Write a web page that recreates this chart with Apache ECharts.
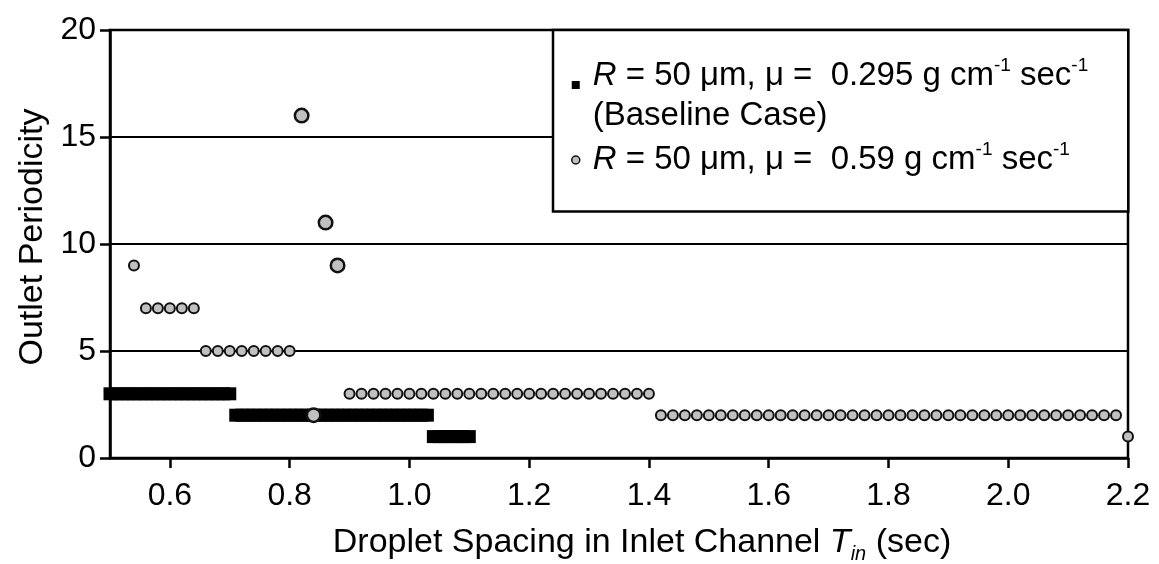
<!DOCTYPE html>
<html>
<head>
    <meta charset="utf-8">
    <title>Outlet Periodicity</title>
    <script src="https://cdn.jsdelivr.net/npm/echarts@6/dist/echarts.min.js"></script>
</head>
<body style="margin:0;background:#fff;">
<div id="main" style="width:1159px;height:564px;"></div>
<script type="text/javascript">
    // x tick positions (axis runs from 0.5 to 2.2)
    var xTicks = [0.6, 0.8, 1.0, 1.2, 1.4, 1.6, 1.8, 2.0, 2.2];

    // baseline case, mu = 0.295 : droplet spacing for each periodicity level
    var base3 = [0.50, 0.51, 0.52, 0.53, 0.54, 0.55, 0.56, 0.57, 0.58, 0.59, 0.60,
                 0.61, 0.62, 0.63, 0.64, 0.65, 0.66, 0.67, 0.68, 0.69, 0.70];
    var base2 = [0.71, 0.72, 0.73, 0.74, 0.75, 0.76, 0.77, 0.78, 0.79, 0.80, 0.81,
                 0.82, 0.83, 0.84, 0.85, 0.86, 0.87, 0.88, 0.89, 0.90, 0.91, 0.92,
                 0.93, 0.94, 0.95, 0.96, 0.97, 0.98, 0.99, 1.00, 1.01, 1.02, 1.03];
    var base1 = [1.04, 1.05, 1.06, 1.07, 1.08, 1.09, 1.10];

    // mu = 0.59 case
    var visc9 = [0.54];
    var visc7 = [0.56, 0.58, 0.60, 0.62, 0.64];
    var visc5 = [0.66, 0.68, 0.70, 0.72, 0.74, 0.76, 0.78, 0.80];
    var visc3 = [0.90, 0.92, 0.94, 0.96, 0.98, 1.00, 1.02, 1.04, 1.06, 1.08, 1.10,
                 1.12, 1.14, 1.16, 1.18, 1.20, 1.22, 1.24, 1.26, 1.28, 1.30, 1.32,
                 1.34, 1.36, 1.38, 1.40];
    var visc2 = [1.42, 1.44, 1.46, 1.48, 1.50, 1.52, 1.54, 1.56, 1.58, 1.60, 1.62,
                 1.64, 1.66, 1.68, 1.70, 1.72, 1.74, 1.76, 1.78, 1.80, 1.82, 1.84,
                 1.86, 1.88, 1.90, 1.92, 1.94, 1.96, 1.98, 2.00, 2.02, 2.04, 2.06,
                 2.08, 2.10, 2.12, 2.14, 2.16, 2.18];
    var visc1 = [2.20];
    // the few larger markers of the same case
    var bigX = [0.82, 0.86, 0.88, 0.84];
    var bigY = [16, 11, 9, 2];

    function pts(xs, y) {
        return xs.map(function (x) { return [x, y]; });
    }

    var FONT = '"Liberation Sans", Arial, sans-serif';
    var myChart = echarts.init(document.getElementById('main'));

    var legendRich = {
        t: {fontFamily: FONT, fontSize: 33, color: '#000', lineHeight: 40},
        i: {fontFamily: FONT, fontSize: 33, color: '#000', lineHeight: 40, fontStyle: 'italic'},
        s: {fontFamily: FONT, fontSize: 19, color: '#000', lineHeight: 24, verticalAlign: 'top'}
    };

    var option = {
        backgroundColor: '#fff',
        animation: false,
        grid: {
            left: 110, right: 31, top: 30, bottom: 106,
            show: true, borderColor: '#000', borderWidth: 2.5,
            outerBoundsMode: 'none'
        },
        legend: {
            left: 553, top: 30,
            orient: 'vertical',
            itemWidth: 8, itemHeight: 80, itemGap: 4,
            padding: [26, 40, 35, 18],
            backgroundColor: '#fff',
            borderColor: '#000', borderWidth: 2.5,
            data: [
                {name: 'base', icon: 'path://M0,0L8,0M0,25L8,25L8,33L0,33ZM0,80L8,80'},
                {name: 'visc', icon: 'circle', itemStyle: {borderWidth: 1.5}}
            ],
            formatter: function (name) {
                if (name === 'base') {
                    return '{i|R}{t| = 50 μm, μ =  0.295 g cm}{s|-1}{t| sec}{s|-1}\n{t|(Baseline Case)}';
                }
                return '{i|R}{t| = 50 μm, μ =  0.59 g cm}{s|-1}{t| sec}{s|-1}';
            },
            textStyle: {padding: [0, 0, 0, 8], rich: legendRich}
        },
        xAxis: {
            type: 'value', min: 0.5, max: 2.2,
            name: '{t|Droplet Spacing in Inlet Channel }{i|T}{sub|in}{t| (sec)}',
            nameLocation: 'middle', nameGap: 64,
            nameTextStyle: {
                padding: [0, 0, 0, 46],
                rich: {
                    t: {fontFamily: FONT, fontSize: 34, color: '#000', lineHeight: 42},
                    i: {fontFamily: FONT, fontSize: 34, color: '#000', lineHeight: 42, fontStyle: 'italic'},
                    sub: {fontFamily: FONT, fontSize: 20, color: '#000', lineHeight: 12, fontStyle: 'italic', verticalAlign: 'bottom'}
                }
            },
            axisLine: {lineStyle: {color: '#000', width: 2.5}},
            axisTick: {customValues: xTicks, length: 10, lineStyle: {color: '#000', width: 2.5}},
            axisLabel: {
                customValues: xTicks, margin: 22,
                fontFamily: FONT, fontSize: 32, color: '#000',
                formatter: function (v) { return v.toFixed(1); }
            },
            splitLine: {show: false}
        },
        yAxis: {
            type: 'value', min: 0, max: 20, interval: 5,
            name: 'Outlet Periodicity',
            nameLocation: 'middle', nameGap: 58,
            nameTextStyle: {fontFamily: FONT, fontSize: 34, color: '#000', padding: [0, 0, 0, 14]},
            axisLine: {show: true, lineStyle: {color: '#000', width: 2.5}},
            axisTick: {show: true, length: 10, lineStyle: {color: '#000', width: 2.5}},
            axisLabel: {margin: 14, fontFamily: FONT, fontSize: 32, color: '#000'},
            splitLine: {show: true, lineStyle: {color: '#000', width: 2}}
        },
        series: [
            {
                name: 'base', type: 'scatter', clip: false,
                symbol: 'rect', symbolSize: 13,
                itemStyle: {color: '#000', opacity: 1},
                data: pts(base3, 3).concat(pts(base2, 2), pts(base1, 1))
            },
            {
                name: 'visc', type: 'scatter', clip: false,
                symbol: 'circle', symbolSize: 10,
                itemStyle: {color: '#c0c0c0', borderColor: '#111', borderWidth: 2, opacity: 1},
                data: pts(visc9, 9).concat(pts(visc7, 7), pts(visc5, 5), pts(visc3, 3), pts(visc2, 2), pts(visc1, 1))
            },
            {
                name: 'visc', type: 'scatter', clip: false,
                symbol: 'circle', symbolSize: 13.5,
                itemStyle: {color: '#c0c0c0', borderColor: '#111', borderWidth: 2.5, opacity: 1},
                data: bigX.map(function (x, k) { return [x, bigY[k]]; })
            }
        ]
    };

    myChart.setOption(option);
</script>
</body>
</html>
